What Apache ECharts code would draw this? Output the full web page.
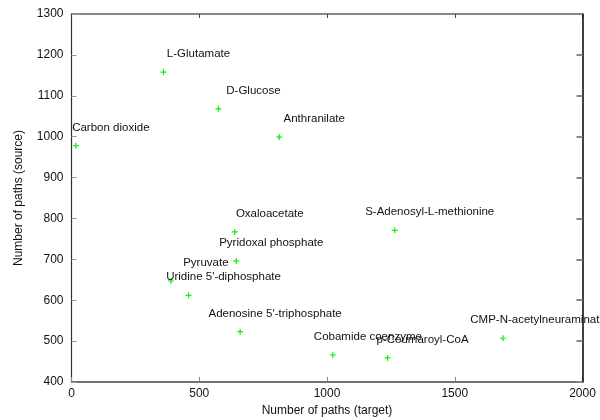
<!DOCTYPE html>
<html><head><meta charset="utf-8">
<script src="https://cdn.jsdelivr.net/npm/echarts@6/dist/echarts.min.js"></script>
<style>html,body{margin:0;padding:0;background:#fff}#c{width:600px;height:420px}</style>
</head><body><div id="c"></div>
<script>
const compounds = ["Carbon dioxide","L-Glutamate","D-Glucose","Anthranilate","Oxaloacetate","Pyridoxal phosphate","Pyruvate","Uridine 5'-diphosphate","Adenosine 5'-triphosphate","S-Adenosyl-L-methionine","Cobamide coenzyme","p-Coumaroyl-CoA","CMP-N-acetylneuraminate"];
const targetPaths = [17, 360, 575, 813, 639, 645, 389, 458, 660, 1265, 1023, 1237, 1689];
const sourcePaths = [978, 1158, 1068, 999, 767, 696, 647, 612, 523, 771, 466, 459, 507];
const xTitle = "Number of paths (target)";
const yTitle = "Number of paths (source)";

const FONT = "'Liberation Sans', Arial, Helvetica, sans-serif";
const points = compounds.map((n, i) => ({name: n, value: [targetPaths[i], sourcePaths[i]]}));
const plain = v => String(v);

const chart = echarts.init(document.getElementById('c'), null, {renderer: 'canvas'});
chart.setOption({
  animation: false,
  backgroundColor: '#fff',
  textStyle: {fontFamily: FONT},
  grid: {left: 71.5, right: 17.5, top: 14, bottom: 38, containLabel: false, outerBoundsMode: 'none'},
  xAxis: [{
    type: 'value', min: 0, max: 2000, interval: 500, position: 'bottom',
    name: xTitle, nameLocation: 'middle', nameGap: 23,
    nameTextStyle: {fontFamily: FONT, fontSize: 12, color: '#111'},
    axisLine: {show: true, onZero: false, lineStyle: {color: '#444', width: 1.5}},
    axisTick: {show: true, inside: true, length: 5, lineStyle: {color: '#888'}},
    axisLabel: {fontFamily: FONT, fontSize: 12, color: '#111', margin: 6, formatter: plain},
    splitLine: {show: false}
  }, {
    type: 'value', min: 0, max: 2000, interval: 500, position: 'top',
    axisLine: {show: true, onZero: false, lineStyle: {color: '#888', width: 2}},
    axisTick: {show: true, inside: true, length: 4, lineStyle: {color: '#444'}},
    axisLabel: {show: false}, splitLine: {show: false}
  }],
  yAxis: [{
    type: 'value', min: 400, max: 1300, interval: 100, position: 'left',
    name: yTitle, nameLocation: 'middle', nameGap: 47,
    nameTextStyle: {fontFamily: FONT, fontSize: 12, color: '#111'},
    axisLine: {show: true, onZero: false, lineStyle: {color: '#333', width: 1.2}},
    axisTick: {show: true, inside: true, length: 5, lineStyle: {color: '#999'}},
    axisLabel: {fontFamily: FONT, fontSize: 12, color: '#111', margin: 8, formatter: plain},
    splitLine: {show: false}
  }, {
    type: 'value', min: 400, max: 1300, interval: 100, position: 'right', z: 10,
    axisLine: {show: true, onZero: false, lineStyle: {color: '#000', width: 1.5}},
    axisTick: {show: true, inside: true, length: 6, lineStyle: {color: '#888', width: 2}},
    axisLabel: {show: false}, splitLine: {show: false}
  }],
  series: [{
    type: 'scatter',
    xAxisIndex: 0, yAxisIndex: 0,
    data: points,
    symbol: 'path://M2,0h1v2h2v1h-2v2h-1v-2h-2v-1h2z',
    symbolSize: 6,
    itemStyle: {color: '#11ee11', opacity: 1},
    emphasis: {disabled: true},
    label: {
      show: true, position: [38, -15],
      formatter: p => p.name,
      fontFamily: FONT, fontSize: 11.5, color: '#111',
      align: 'center', verticalAlign: 'middle'
    },
    labelLayout: {hideOverlap: false},
    clip: false
  }]
});
</script></body></html>
